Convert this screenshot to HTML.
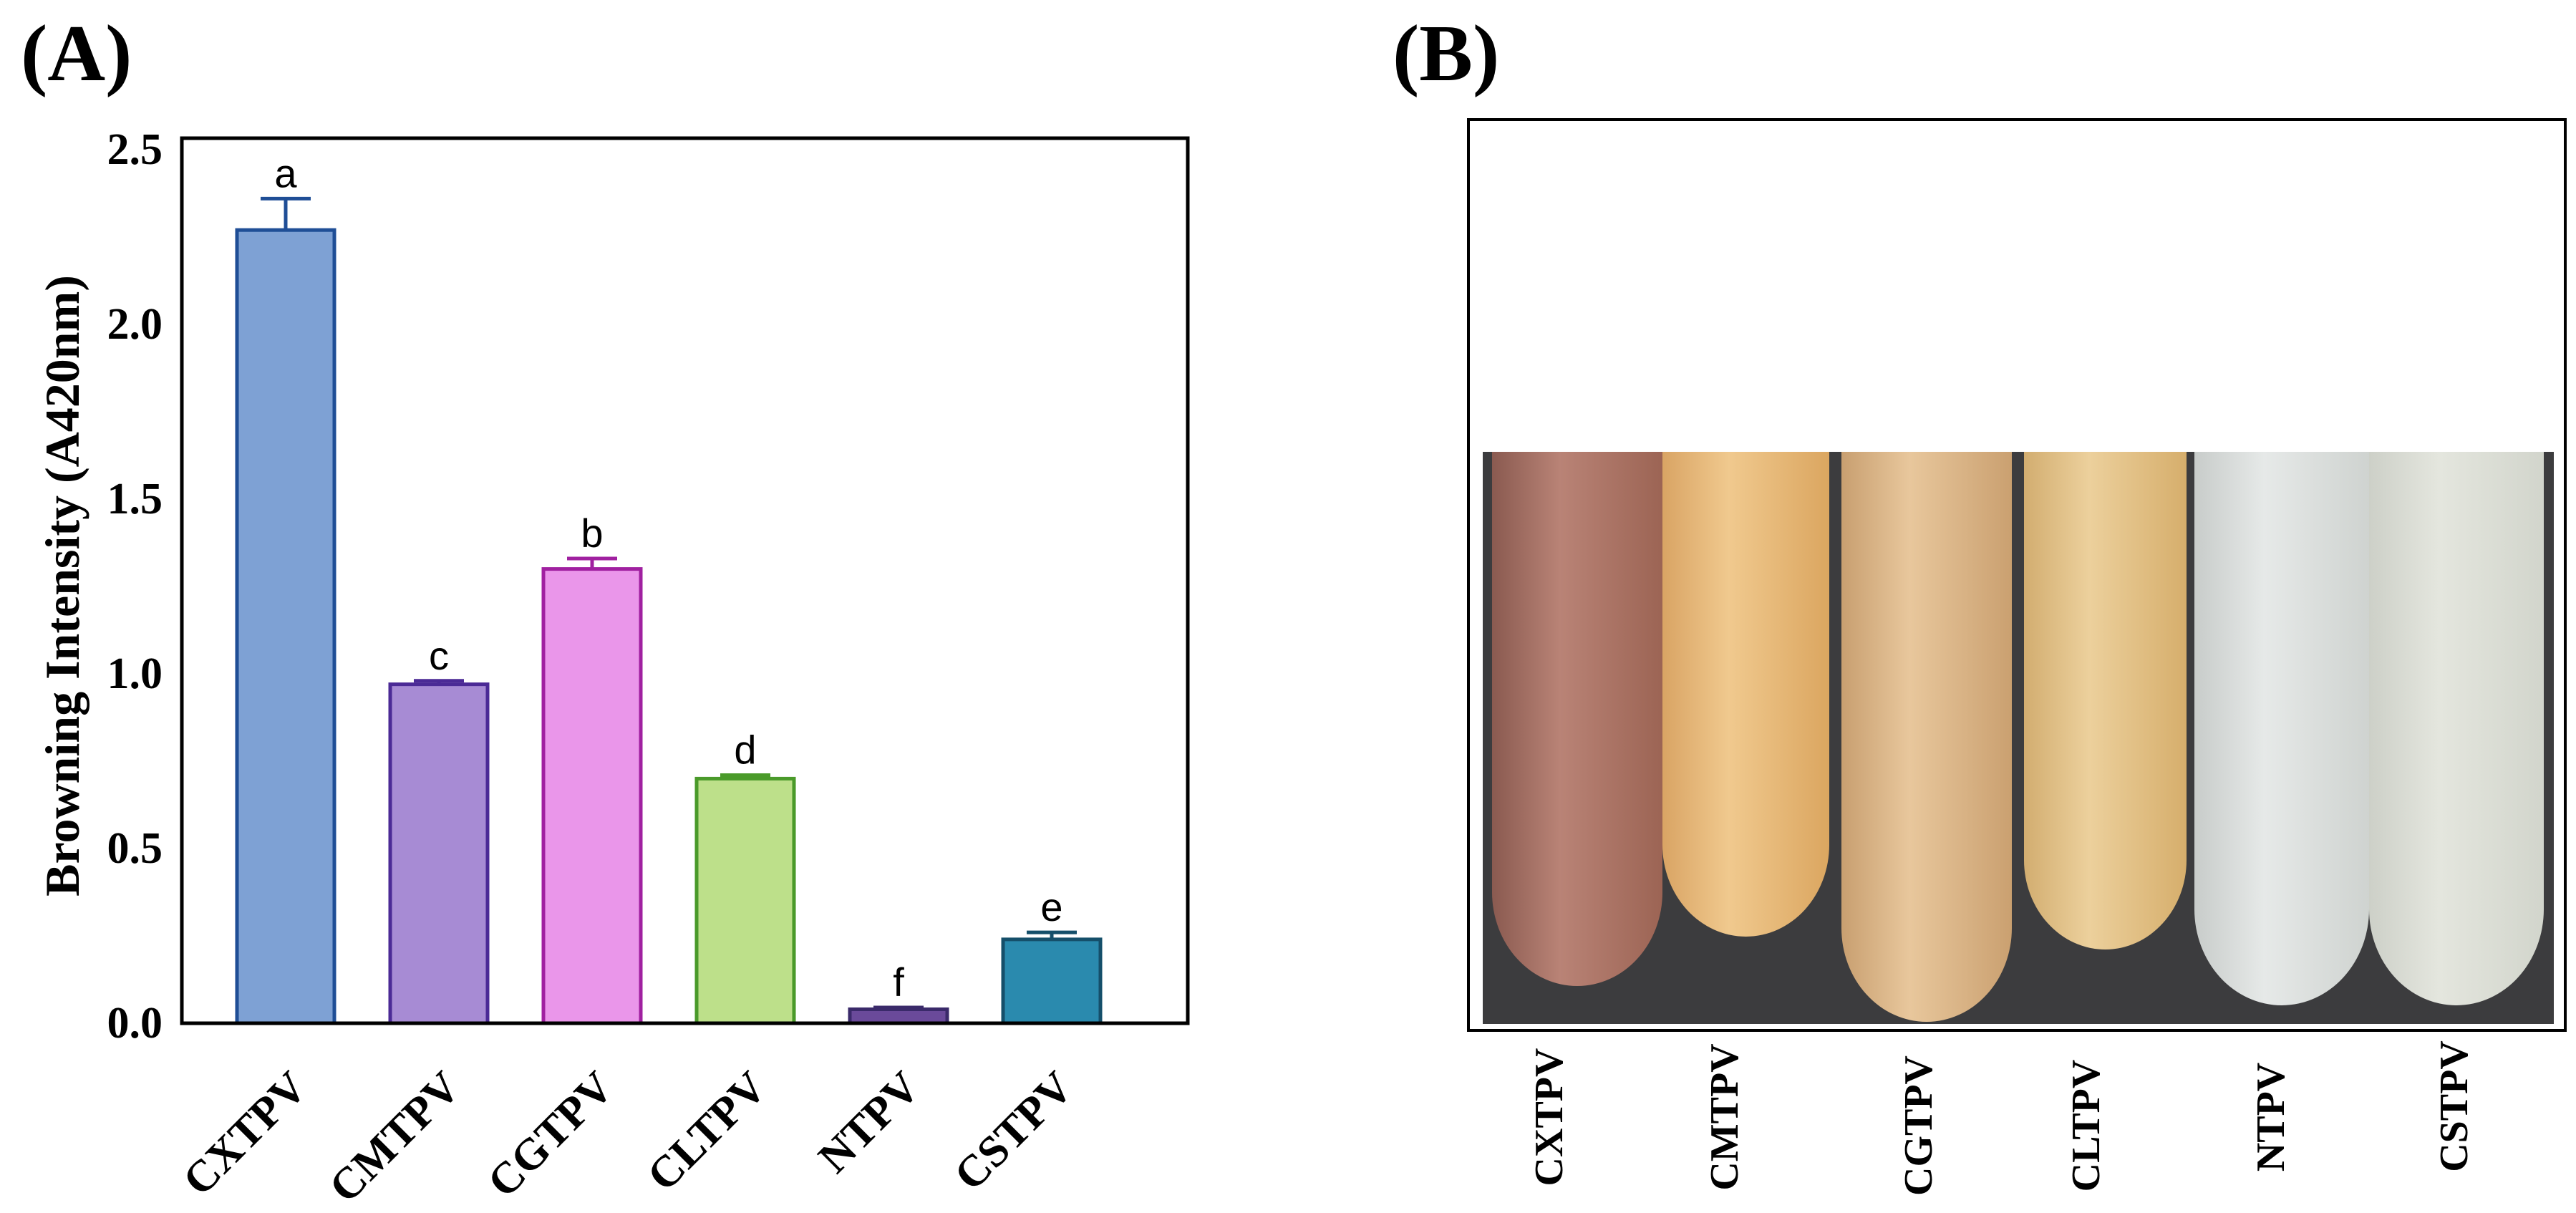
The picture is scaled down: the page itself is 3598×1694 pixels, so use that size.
<!DOCTYPE html>
<html><head><meta charset="utf-8"><style>
html,body{margin:0;padding:0;background:#fff;}
svg{display:block;}
</style></head><body>
<svg id="fig" width="3598" height="1694" viewBox="0 0 3598 1694" xmlns="http://www.w3.org/2000/svg">
<defs>
<linearGradient id="t1" x1="0" x2="1"><stop offset="0" stop-color="#8a5a50"/><stop offset="0.4" stop-color="#b98376"/><stop offset="1" stop-color="#9c6454"/></linearGradient>
<linearGradient id="t2" x1="0" x2="1"><stop offset="0" stop-color="#d9a464"/><stop offset="0.4" stop-color="#f0c98e"/><stop offset="1" stop-color="#dba660"/></linearGradient>
<linearGradient id="t3" x1="0" x2="1"><stop offset="0" stop-color="#c89f70"/><stop offset="0.4" stop-color="#e8c79c"/><stop offset="1" stop-color="#caa070"/></linearGradient>
<linearGradient id="t4" x1="0" x2="1"><stop offset="0" stop-color="#d2ad70"/><stop offset="0.4" stop-color="#ecd09c"/><stop offset="1" stop-color="#d6ae6c"/></linearGradient>
<linearGradient id="t5" x1="0" x2="1"><stop offset="0" stop-color="#c8ccca"/><stop offset="0.4" stop-color="#e6e9e8"/><stop offset="1" stop-color="#cfd3d0"/></linearGradient>
<linearGradient id="t6" x1="0" x2="1"><stop offset="0" stop-color="#cdd0c8"/><stop offset="0.4" stop-color="#e4e6de"/><stop offset="1" stop-color="#d2d5cc"/></linearGradient>
</defs>

<text x="29" y="112" font-family="Liberation Serif, serif" font-weight="bold" font-size="112">(A)</text>
<text x="1945" y="112" font-family="Liberation Serif, serif" font-weight="bold" font-size="112">(B)</text>

<g id="chartA"></g>

<g id="panelB">
  <rect x="2071" y="631" width="1496" height="799" fill="#3c3c3e"/>
  <g id="tubes"></g>
  <rect x="2051" y="167" width="1532" height="1272" fill="none" stroke="#000" stroke-width="4"/>
  <g id="labelsB"></g>
</g>
</svg>
<script>
const categories = ["CXTPV","CMTPV","CGTPV","CLTPV","NTPV","CSTPV"];
const values = [2.27, 0.97, 1.30, 0.70, 0.04, 0.24];
const errors = [0.09, 0.01, 0.03, 0.01, 0.005, 0.02];
const letters = ["a","c","b","d","f","e"];
const yTicks = [0.0, 0.5, 1.0, 1.5, 2.0, 2.5];
const yTickLabels = ["0.0","0.5","1.0","1.5","2.0","2.5"];

const fills = ["#7ea1d4","#a78bd4","#ea96ea","#bde08a","#6a4a9a","#2a8aae"];
const strokes = ["#1f4e96","#4b2a96","#a020a0","#4a9a2a","#3a2a6a","#154f6a"];
const NS = "http://www.w3.org/2000/svg";
const FL = 254, FR = 1659, FT = 193, B = 1429;
const T = 209;
const yMax = 2.5;
function y(v){ return B - (v / yMax) * (B - T); }
const step = 214;
function x(i){ return 399 + step * i; }
const bw = 136;
function mk(tag, attrs, parent){ const e = document.createElementNS(NS, tag); for (const k in attrs) e.setAttribute(k, attrs[k]); parent.appendChild(e); return e; }
const g = document.getElementById('chartA');

yTicks.forEach((t, i) => {
  const e = mk('text', {x: 227, y: y(t) + 20, 'text-anchor': 'end', 'font-family': 'Liberation Serif, serif', 'font-weight': 'bold', 'font-size': 62}, g);
  
  
  e.textContent = yTickLabels[i];
});
const yt = mk('text', {x: 0, y: 0, transform: 'translate(110,818) rotate(-90)', 'text-anchor': 'middle', 'font-family': 'Liberation Serif, serif', 'font-weight': 'bold', 'font-size': 68}, g);


yt.textContent = 'Browning Intensity (A420nm)';

categories.forEach((c, i) => {
  const cx = x(i), top = y(values[i]), ey = y(values[i] + errors[i]);
  const eb = mk('path', {d: `M${cx},${top} V${ey} M${cx-35},${ey} H${cx+35}`, stroke: strokes[i], 'stroke-width': 5, fill: 'none'}, g);
  
  
  const r = mk('rect', {x: cx - bw/2, y: top, width: bw, height: B - top, fill: fills[i], stroke: strokes[i], 'stroke-width': 5}, g);
  
  
  const lt = mk('text', {x: cx, y: ey - 16, 'text-anchor': 'middle', 'font-family': 'Liberation Sans, sans-serif', 'font-size': 56}, g);
  
  
  lt.textContent = letters[i];
  const xl = mk('text', {x: 0, y: 0, transform: `translate(${cx+33},${1522}) rotate(-45)`, 'text-anchor': 'end', 'font-family': 'Liberation Serif, serif', 'font-weight': 'bold', 'font-size': 62}, g);
  
  
  xl.textContent = c;
});
const fr = mk('rect', {x: FL, y: FT, width: FR - FL, height: B - FT, fill: 'none', stroke: '#000', 'stroke-width': 5}, g);



const tubeX = [2084, 2322, 2572, 2827, 3065, 3309];
const tubeW = [238, 233, 238, 227, 244, 244];
const tubeBottom = [1377, 1308, 1427, 1326, 1404, 1404];
const tg = document.getElementById('tubes');
for (let i = 0; i < 6; i++) {
  const x0 = tubeX[i], w = tubeW[i], b = tubeBottom[i], rr = w/2, ry = rr*1.1;
  const p = mk('path', {d: `M${x0},631 V${b - ry} A${rr},${ry} 0 0 0 ${x0+w},${b - ry} V631 Z`, fill: `url(#t${i+1})`}, tg);
  
  
}
const lg = document.getElementById('labelsB');
const labX = [2164, 2409, 2680, 2914, 3172, 3428];
const labY = [1560, 1560, 1572, 1572, 1560, 1545];
categories.forEach((c, i) => {
  const t = mk('text', {x: 0, y: 0, transform: `translate(${labX[i]+18},${labY[i]}) rotate(-90)`, 'text-anchor': 'middle', 'font-family': 'Liberation Serif, serif', 'font-weight': 'bold', 'font-size': 56}, lg);
  
  
  t.textContent = c;
});
</script>
</body></html>
